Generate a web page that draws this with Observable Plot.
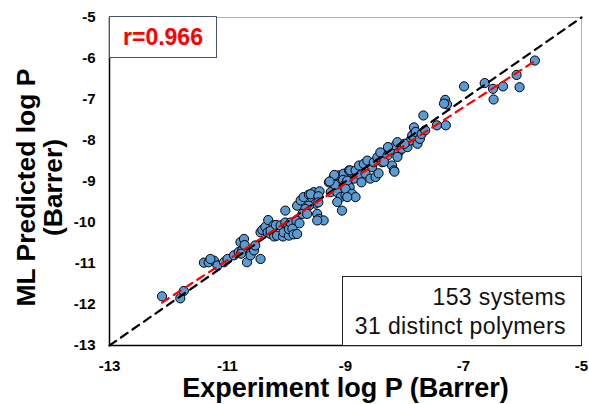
<!DOCTYPE html>
<html><head><meta charset="utf-8">
<script src="https://cdn.jsdelivr.net/npm/d3@7"></script>
<script src="https://cdn.jsdelivr.net/npm/@observablehq/plot@0.6"></script>
<style>
body{margin:0;background:#fff;}
#wrap{position:relative;width:589px;height:404px;font-family:"Liberation Sans",Arial,Helvetica,sans-serif;}
.rbox{position:absolute;left:109px;top:16px;width:108px;height:42px;border:1.5px solid #44546a;box-sizing:border-box;background:#fff;color:#ff0000;font-weight:bold;font-size:23px;display:flex;align-items:center;justify-content:center;}
.nbox{position:absolute;left:342px;top:276px;width:240px;height:70px;border:1px solid #222;box-sizing:border-box;background:#fff;font-size:23px;letter-spacing:0.4px;text-align:right;padding-right:15px;padding-top:6px;line-height:29px;color:#111;}
</style>
</head><body>
<div id="wrap"></div>
<script>
// Experiment log P (x) and ML predicted log P (y)
const expLogP = [
 -12.11,-11.80,-11.74,-11.40,-11.32,-11.23,-11.17,-11.06,-11.00,-10.89,-10.81,-10.75,-10.78,-10.72,-10.67,-10.61,-10.55,-10.53,-11.29,-10.77,-10.71,
 -10.44,-10.44,-10.41,-10.36,-10.31,-10.32,-10.27,-10.22,-10.27,-10.21,-10.18,-10.10,-10.16,-10.06,-10.05,-10.02,-10.02,-9.96,-9.96,-9.93,-9.90,-9.88,-9.82,
 -9.83,-9.78,-9.82,-9.76,-9.71,-9.62,-9.54,-9.48,-9.56,-9.51,-9.62,-9.68,-9.73,-9.65,-9.48,-9.45,-9.37,-9.48,-9.59,-9.44,-9.46,-9.46,
 -9.28,-9.20,-9.11,-9.03,-8.94,-9.25,-9.14,-9.08,-9.00,-9.06,-9.14,-9.19,-9.18,-9.04,-9.01,-8.95,-8.93,-8.92,-8.83,-8.77,-8.86,-8.97,-8.75,-8.66,-8.69,-8.63,-9.00,-8.89,-8.83,-8.97,-8.73,-9.27,
 -8.58,-8.49,-8.55,-8.52,-8.46,-8.41,-8.38,-8.29,-8.24,-8.21,-8.18,-8.15,-8.10,-8.04,-7.95,-7.90,-7.84,-7.84,-7.78,-8.12,-8.28,-8.35,-8.44,-8.12,-8.00,-7.87,-7.81,-7.74,-7.71,-7.68,-7.65,-8.17,
 -7.45,-7.31,-7.28,-7.33,-7.30,-6.99,-6.64,-6.50,-6.49,-6.33,-6.10,-6.05,-5.79
];
const predLogP = [
 -11.80,-11.85,-11.67,-10.98,-10.97,-10.93,-11.05,-10.97,-10.89,-10.80,-10.72,-10.68,-10.48,-10.40,-10.97,-10.80,-10.68,-10.56,-10.89,-10.76,-10.55,
 -10.89,-10.24,-10.18,-10.11,-9.94,-10.24,-10.28,-10.07,-10.20,-10.34,-10.06,-10.07,-10.32,-10.34,-10.24,-10.00,-9.71,-10.32,-10.16,-10.00,-10.15,-10.29,-10.28,
 -9.96,-10.02,-9.59,-9.46,-9.38,-9.32,-9.26,-9.34,-9.42,-9.54,-9.59,-9.67,-9.79,-9.79,-9.79,-9.91,-9.95,-9.95,-9.31,-9.24,-9.36,-9.51,
 -9.02,-8.90,-8.85,-8.81,-8.73,-9.26,-9.26,-9.38,-9.34,-9.71,-9.50,-8.84,-9.08,-8.96,-9.08,-9.00,-9.14,-8.73,-8.73,-8.61,-8.93,-8.98,-8.85,-8.81,-8.57,-8.49,-9.18,-9.30,-9.38,-9.38,-9.02,-9.00,
 -8.93,-8.89,-8.65,-8.53,-8.41,-8.29,-8.53,-8.37,-8.24,-8.61,-8.73,-8.12,-8.29,-8.20,-8.16,-8.00,-7.84,-7.68,-8.08,-8.40,-8.16,-8.52,-8.80,-8.04,-8.08,-7.88,-7.79,-7.96,-7.84,-7.39,-7.75,-8.76,
 -7.63,-7.01,-7.12,-7.10,-7.63,-6.68,-6.60,-6.74,-7.00,-6.68,-6.40,-6.70,-6.05
];
const identityLine = [-13, -5];
const xTicks = [-13, -11, -9, -7, -5];
const yTicks = [-13, -12, -11, -10, -9, -8, -7, -6, -5];
const xLabel = "Experiment log P (Barrer)";
const yLabelLines = ["ML Predicted log P", "(Barrer)"];
const rText = "r=0.966";
const noteLines = ["153 systems", "31 distinct polymers"];

const points = expLogP.map((x, i) => ({x, y: predLogP[i]}));
const font = '"Liberation Sans",Arial,Helvetica,sans-serif';

const chart = Plot.plot({
  width: 589, height: 404,
  marginLeft: 109, marginRight: 8, marginTop: 17, marginBottom: 59,
  x: {domain: [-13, -5], ticks: xTicks, tickSize: 0, tickPadding: 15, tickFormat: d => String(d), label: null},
  y: {domain: [-13, -5], ticks: yTicks, tickSize: 0, tickPadding: 14, tickFormat: d => String(d), label: null},
  style: {fontFamily: font, fontSize: "15px", fontWeight: "bold", color: "#000", background: "#fff"},
  marks: [
    Plot.frame({stroke: "#b0b0b0", strokeWidth: 1}),
    Plot.ruleX([-13], {stroke: "#000", strokeWidth: 1.5}),
    Plot.ruleY([-13], {stroke: "#000", strokeWidth: 1.5}),
    Plot.dot(points, {x: "x", y: "y", r: 4.6, fill: "#5b9bd5", stroke: "#000", strokeWidth: 1}),
    Plot.line(identityLine, {x: d => d, y: d => d, stroke: "#000", strokeWidth: 2.2, strokeDasharray: "8,6"}),
    Plot.linearRegressionY(points, {x: "x", y: "y", ci: 0, stroke: "#ff0000", strokeWidth: 2.2, strokeDasharray: "8,6"}),
    Plot.text([xLabel], {frameAnchor: "bottom", textAnchor: "middle", lineAnchor: "middle", dy: 43, fontSize: 27, fontWeight: "bold", fill: "#000"}),
    Plot.text([yLabelLines[0]], {frameAnchor: "left", textAnchor: "middle", lineAnchor: "middle", rotate: -90, dx: -83, dy: 6, fontSize: 26.5, fontWeight: "bold", fill: "#000"}),
    Plot.text([yLabelLines[1]], {frameAnchor: "left", textAnchor: "middle", lineAnchor: "middle", rotate: -90, dx: -56, dy: 6, fontSize: 26.5, fontWeight: "bold", fill: "#000"})
  ]
});
const wrap = document.getElementById("wrap");
wrap.appendChild(chart);
const r = document.createElement("div"); r.className = "rbox"; r.textContent = rText; wrap.appendChild(r);
const n = document.createElement("div"); n.className = "nbox"; n.innerHTML = noteLines.join("<br>"); wrap.appendChild(n);
chart.style.position = "absolute"; chart.style.left = "0"; chart.style.top = "0";
</script>
</body></html>
